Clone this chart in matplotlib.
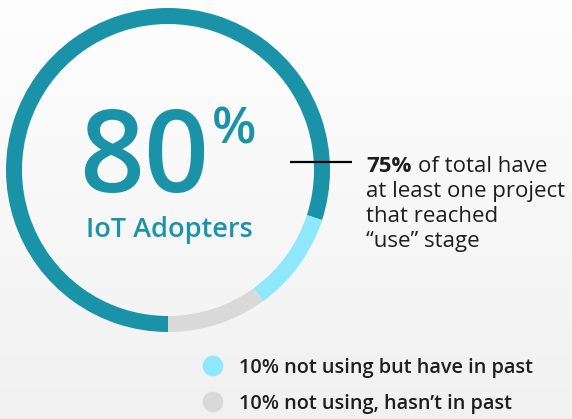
import numpy as np
import matplotlib.pyplot as plt

# ------- 数据 -------
segments = ['IoT Adopters', 'not using but have in past', "not using, hasn't in past"]
shares = [80, 10, 10]
seg_colors = ['#1A93A9', '#8EE7FA', '#D9D9D9']
big_value = '80'
big_label = 'IoT Adopters'
note_bold = '75%'
note_lines = ['of total have', 'at least one project', 'that reached', '\u201cuse\u201d stage']
legend_labels = ['10% not using but have in past', '10% not using, hasn\u2019t in past']

plt.rcParams['font.family'] = ['Open Sans', 'DejaVu Sans']

W, H = 572, 419
fig = plt.figure(figsize=(W / 100, H / 100), dpi=100)
ax = fig.add_axes([0, 0, 1, 1])

# 背景渐变
grad = np.linspace(0, 1, 256).reshape(-1, 1)
ax.imshow(grad, extent=[0, W, 0, H], cmap=plt.matplotlib.colors.LinearSegmentedColormap.from_list(
    'bg', ['#F1F1F1', '#FEFEFE']), aspect='auto', zorder=0, origin='lower')

# 环形图 (y 轴向上, y = H - 像素y)
ax.pie(shares, colors=seg_colors, startangle=270, counterclock=False,
       center=(168, H - 170), radius=162,
       wedgeprops=dict(width=16, linewidth=0), frame=True)

teal_txt = '#1A93A8'
ax.text(144, H - 192, big_value, fontsize=82, fontweight='semibold', color=teal_txt,
        ha='center', va='baseline')
ax.text(212, H - 143, '%', fontsize=37, fontweight='semibold', color=teal_txt, ha='left', va='baseline')
ax.text(169, H - 237, big_label, fontsize=19.5, fontweight='semibold', color=teal_txt,
        ha='center', va='baseline')

# 标注线和文字
ax.plot([290, 352], [H - 162, H - 162], color='black', lw=1.6, solid_capstyle='butt')
txt_col = '#1E1E1E'
fs = 16
ax.text(366, H - 172, note_bold, fontsize=fs, fontweight='bold', color=txt_col, va='baseline')
ax.text(418, H - 172, note_lines[0], fontsize=fs, color=txt_col, va='baseline')
for i, line in enumerate(note_lines[1:]):
    ax.text(366, H - 197 - 25 * i, line, fontsize=fs, color=txt_col, va='baseline')

# 图例
for i, lab in enumerate(legend_labels):
    y = H - 366 - 36 * i
    ax.scatter([213], [y], s=220, color=seg_colors[i + 1], edgecolors='none', zorder=3)
    ax.text(239, y - 7, lab, fontsize=14.3, fontweight='semibold', color=txt_col, va='baseline')

ax.set_xlim(0, W)
ax.set_ylim(0, H)
ax.set_aspect('auto')
ax.axis('off')

fig.savefig('out.png', dpi=100)
